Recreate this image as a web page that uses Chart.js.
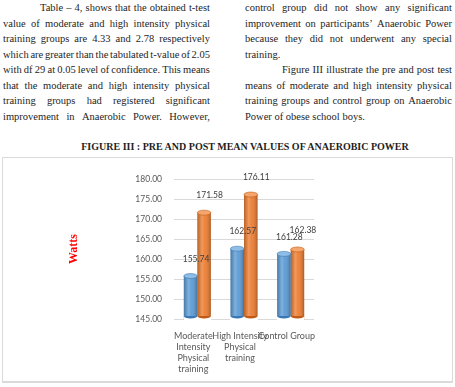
<!DOCTYPE html>
<html><head><meta charset="utf-8">
<script src="https://cdn.jsdelivr.net/npm/chart.js@4"></script>
<style>
body{margin:0;background:#fff;width:455px;height:387px;overflow:hidden;position:relative;font-family:"Liberation Serif","Times New Roman",serif;color:#1e1e1e}
.col{position:absolute;top:0;width:207px;font-size:10.5px;line-height:15.5px}
.ln{display:flex;justify-content:space-between;white-space:nowrap;height:15.5px}
.ln.l{justify-content:flex-start;gap:0}
.ln.ind{padding-left:37px}
.title{position:absolute;left:0;width:490px;top:140px;text-align:center;font-weight:bold;font-size:10px;line-height:14px;white-space:nowrap}
.box{position:absolute;left:2px;top:157px;width:449px;height:223px;border:1px solid #dadada;border-bottom-width:2px}
canvas{position:absolute;left:0;top:0}
</style></head>
<body>
<div class="col" id="c1" style="left:3px"></div>
<div class="col" id="c2" style="left:245px"></div>
<div class="title">FIGURE III : PRE AND POST MEAN VALUES OF ANAEROBIC POWER</div>
<div class="box"><canvas id="c" width="449" height="223"></canvas></div>
<script>
const leftLines = [
 ["ind","Table – 4, shows that the obtained t-test"],
 ["","value of moderate and high intensity physical"],
 ["","training groups are 4.33 and 2.78 respectively"],
 ["","which are greater than the tabulated t-value of 2.05"],
 ["","with df 29 at 0.05 level of confidence. This means"],
 ["","that the moderate and high intensity physical"],
 ["","training groups had registered significant"],
 ["","improvement in Anaerobic Power. However,"]
];
const rightLines = [
 ["","control group did not show any significant"],
 ["","improvement on participants’ Anaerobic Power"],
 ["","because they did not underwent any special"],
 ["l","training."],
 ["ind","Figure III illustrate the pre and post test"],
 ["","means of moderate and high intensity physical"],
 ["","training groups and control group on Anaerobic"],
 ["l","Power of obese school boys."]
];
function fill(id, lines){
  const el=document.getElementById(id);
  lines.forEach(([cls,t])=>{
    const d=document.createElement('div');
    d.className='ln '+cls;
    if(cls==='l'){d.textContent=t;}
    else t.split(' ').forEach(w=>{const s=document.createElement('span');s.textContent=w;d.appendChild(s);});
    el.appendChild(d);
  });
}
fill('c1',leftLines); fill('c2',rightLines);

// ---- chart data ----
const categories = [["Moderate","Intensity","Physical","training"],["High Intensity","Physical","training"],["Control Group"]];
const preValues = [155.74, 162.57, 161.28];
const postValues = [171.58, 176.11, 162.38];
const yMin = 145, yMax = 180, yStep = 5;

const cyl = {
  id:'cyl',
  afterDatasetsDraw(chart){
    const ctx=chart.ctx;
    const bottom=chart.scales.y.getPixelForValue(yMin);
    const labels=[];
    chart.data.datasets.forEach((ds,di)=>{
      const meta=chart.getDatasetMeta(di);
      meta.data.forEach((el,i)=>{
        const {x,y,width}=el.getProps(['x','y','width'],true);
        const base=bottom-3;
        const l=x-width/2, r=x+width/2;
        ctx.save();
        const g=ctx.createLinearGradient(l,0,r,0);
        g.addColorStop(0,'rgba(0,0,0,0.22)');
        g.addColorStop(0.35,'rgba(255,255,255,0.22)');
        g.addColorStop(0.55,'rgba(255,255,255,0.05)');
        g.addColorStop(1,'rgba(0,0,0,0.28)');
        ctx.fillStyle=g;
        ctx.fillRect(l,y,width,base-y);
        ctx.clearRect(l,base,width,bottom-base+1);
        ctx.beginPath();
        ctx.ellipse(x,base,width/2,2.5,0,0,Math.PI);
        ctx.fillStyle=ds.capDark; ctx.fill();
        ctx.beginPath();
        ctx.ellipse(x,y,width/2,2.5,0,0,Math.PI*2);
        ctx.fillStyle=ds.capLight; ctx.fill();
        ctx.strokeStyle=ds.capDark; ctx.lineWidth=0.6; ctx.stroke();
        ctx.restore();
        labels.push({di,i,x:x+5.5,y:y-17,t:ds.data[i].toFixed(2)});
      });
    });
    // avoid label collisions within a category
    labels.filter(o=>o.di===1).forEach(o=>{
      const b=labels.find(p=>p.di===0&&p.i===o.i);
      if(b && Math.abs(b.y-o.y)<7){ o.y=Math.min(o.y,b.y-7); }
    });
    ctx.save();
    ctx.fillStyle='#404040';
    ctx.font='8.5px Lato';
    ctx.textAlign='center'; ctx.textBaseline='middle';
    labels.forEach(o=>ctx.fillText(o.t,o.x,o.y));
    ctx.restore();
  }
};

new Chart(document.getElementById('c'),{
  type:'bar',
  data:{labels:categories,datasets:[
    {label:'Pre',data:preValues,backgroundColor:'#5b9bd5',capLight:'#8fbde6',capDark:'#3a78b5',barPercentage:1,categoryPercentage:0.58},
    {label:'Post',data:postValues,backgroundColor:'#ed7d31',capLight:'#f6a66d',capDark:'#c05a14',barPercentage:1,categoryPercentage:0.58}
  ]},
  options:{
    responsive:false,animation:false,devicePixelRatio:1,
    layout:{padding:{left:60,right:138,top:21,bottom:0}},
    plugins:{legend:{display:false},tooltip:{enabled:false}},
    scales:{
      x:{grid:{display:false},border:{display:false},
         ticks:{autoSkip:false,maxRotation:0,minRotation:0,padding:4,labelOffset:-4,color:'#595959',font:{family:'Lato',size:9,lineHeight:1.22}},
         afterFit(s){s.height=62;}},
      y:{min:yMin,max:yMax,
         grid:{color:'#d9d9d9',drawTicks:false},border:{display:false},
         ticks:{stepSize:yStep,padding:12,color:'#595959',font:{family:'Lato',size:8.5},callback:v=>v.toFixed(2)},
         title:{display:true,text:'Watts',color:'#ff0000',font:{family:'Liberation Serif',size:12,weight:'bold'}},
         afterFit(s){s.width=111;}}
    }
  },
  plugins:[cyl]
});
</script>
</body></html>
